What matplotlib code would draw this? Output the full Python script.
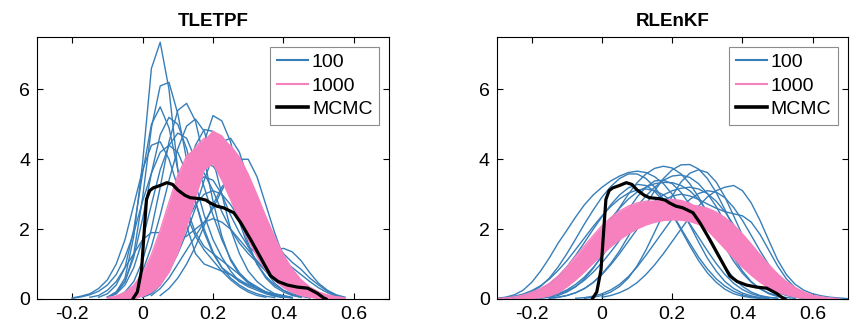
import numpy as np
import matplotlib
matplotlib.use('Agg')
import matplotlib.pyplot as plt
from matplotlib.lines import Line2D

plt.rcParams['font.family'] = ['Liberation Sans', 'DejaVu Sans']

x_grid = np.linspace(-0.3, 0.7, 41)

# TLETPF, ensemble size 100
tletpf_100 = [
    [0]*8 + [0.05, 0.2, 0.6, 1.8, 3.9, 6.6, 7.35, 6.0, 3.7, 2.1, 1.3, 1.0, 0.9, 0.8, 0.7, 0.55, 0.4, 0.3, 0.2, 0.15, 0.1, 0.05] + [0]*11,
    [0]*8 + [0.05, 0.15, 0.5, 1.3, 2.9, 4.9, 6.1, 6.2, 5.3, 4.0, 2.8, 1.9, 1.3, 0.9, 0.7, 0.5, 0.4, 0.3, 0.2, 0.12, 0.06, 0.03] + [0]*11,
    [0]*7 + [0.05, 0.15, 0.4, 0.9, 2.0, 3.6, 5.0, 5.5, 4.9, 3.7, 2.6, 1.9, 1.5, 1.3, 1.1, 0.9, 0.7, 0.5, 0.35, 0.2, 0.1, 0.05] + [0]*12,
    [0]*9 + [0.05, 0.2, 0.5, 1.1, 2.0, 3.2, 4.5, 5.4, 5.6, 5.1, 4.0, 2.8, 1.8, 1.1, 0.7, 0.45, 0.3, 0.2, 0.1, 0.05] + [0]*12,
    [0]*10 + [0.1, 0.3, 0.8, 1.5, 2.4, 3.4, 4.3, 4.95, 5.15, 4.8, 4.0, 3.0, 2.0, 1.3, 0.8, 0.5, 0.3, 0.15, 0.08, 0.03] + [0]*11,
    [0]*12 + [0.1, 0.3, 0.6, 1.0, 1.6, 2.4, 3.4, 4.5, 5.25, 5.1, 4.5, 3.4, 2.3, 1.4, 0.8, 0.45, 0.25, 0.12, 0.05] + [0]*10,
    [0]*12 + [0.05, 0.15, 0.4, 0.8, 1.3, 1.9, 2.6, 3.4, 4.1, 4.5, 4.6, 4.2, 3.4, 2.4, 1.6, 1.0, 0.6, 0.35, 0.2, 0.1, 0.05] + [0]*8,
    [0]*13 + [0.1, 0.3, 0.6, 1.0, 1.4, 1.8, 2.2, 2.6, 3.1, 3.6, 4.0, 4.0, 3.5, 2.7, 1.9, 1.2, 0.7, 0.4, 0.2, 0.1, 0.05] + [0]*7,
    [0]*8 + [0.05, 0.2, 0.5, 1.2, 2.3, 3.6, 4.7, 5.2, 5.0, 4.3, 3.3, 2.4, 1.7, 1.2, 0.8, 0.5, 0.35, 0.25, 0.15, 0.08, 0.04] + [0]*12,
    [0]*11 + [0.1, 0.3, 0.6, 1.1, 1.8, 2.7, 3.6, 4.4, 4.85, 4.8, 4.2, 3.3, 2.4, 1.6, 1.0, 0.6, 0.35, 0.2, 0.1, 0.05] + [0]*10,
    [0]*10 + [0.1, 0.3, 0.6, 1.0, 1.5, 2.1, 2.7, 3.3, 3.7, 3.9, 3.8, 3.5, 3.0, 2.5, 2.0, 1.5, 1.1, 0.8, 0.55, 0.35, 0.2, 0.1, 0.05] + [0]*8,
    [0]*6 + [0.05, 0.1, 0.25, 0.5, 0.9, 1.3, 1.7, 1.9, 1.9, 1.8, 1.7, 1.8, 2.0, 2.2, 2.3, 2.2, 2.0, 1.7, 1.4, 1.1, 0.8, 0.55, 0.35, 0.2, 0.1, 0.05] + [0]*9,
    [0]*10 + [0.05, 0.15, 0.35, 0.7, 1.2, 1.8, 2.4, 2.9, 3.3, 3.5, 3.4, 3.0, 2.4, 1.9, 1.5, 1.3, 1.3, 1.4, 1.45, 1.35, 1.1, 0.75, 0.45, 0.25, 0.12, 0.05] + [0]*5,
    [0]*4 + [0.02, 0.06, 0.12, 0.22, 0.4, 0.7, 1.2, 1.9, 2.8, 3.6, 4.2, 4.4, 4.2, 3.6, 2.8, 2.0, 1.35, 0.9, 0.6, 0.4, 0.25, 0.15, 0.08, 0.04] + [0]*13,
    [0]*8 + [0.05, 0.15, 0.4, 0.9, 1.7, 2.7, 3.7, 4.4, 4.75, 4.6, 4.0, 3.2, 2.4, 1.7, 1.15, 0.75, 0.5, 0.3, 0.18, 0.1, 0.05] + [0]*12,
    [0]*14 + [0.1, 0.3, 0.6, 1.0, 1.5, 2.1, 2.7, 3.2, 3.55, 3.6, 3.3, 2.8, 2.2, 1.7, 1.3, 1.05, 0.85, 0.6, 0.4, 0.22, 0.1, 0.04] + [0]*5,
    [0]*11 + [0.05, 0.2, 0.5, 0.95, 1.6, 2.4, 3.3, 4.0, 4.3, 4.2, 3.7, 3.0, 2.2, 1.5, 1.0, 0.65, 0.4, 0.25, 0.15, 0.08, 0.03] + [0]*9,
    [0]*4 + [0.03, 0.08, 0.15, 0.3, 0.55, 1.0, 1.7, 2.7, 3.7, 4.4, 4.5, 4.0, 3.2, 2.4, 1.8, 1.4, 1.1, 0.8, 0.55, 0.35, 0.2, 0.1, 0.05] + [0]*14,
    [0]*12 + [0.05, 0.2, 0.5, 1.0, 1.6, 2.2, 2.7, 3.0, 3.1, 3.0, 2.7, 2.3, 1.9, 1.6, 1.4, 1.25, 1.1, 0.9, 0.7, 0.5, 0.32, 0.18, 0.08, 0.03] + [0]*5,
    [0]*10 + [0.05, 0.2, 0.5, 1.0, 1.7, 2.5, 3.2, 3.7, 3.8, 3.6, 3.1, 2.5, 2.0, 1.6, 1.3, 1.05, 0.8, 0.55, 0.35, 0.2, 0.1, 0.04] + [0]*9,
]

# TLETPF, ensemble size 1000
tletpf_1000 = [
    [0]*8 + [0.03, 0.08, 0.19, 0.39, 0.74, 1.27, 1.97, 2.77, 3.54, 4.09, 4.3, 4.19, 3.88, 3.41, 2.85, 2.25, 1.70, 1.21, 0.82, 0.53, 0.33, 0.19, 0.10, 0.06, 0.03] + [0]*8,
    [0]*10 + [0.05, 0.13, 0.30, 0.62, 1.15, 1.89, 2.79, 3.68, 4.35, 4.6, 4.46, 4.06, 3.47, 2.79, 2.11, 1.50, 0.99, 0.62, 0.37, 0.20, 0.11, 0.05] + [0]*9,
    [0]*12 + [0.08, 0.21, 0.48, 0.97, 1.73, 2.70, 3.72, 4.50, 4.8, 4.67, 4.29, 3.72, 3.05, 2.37, 1.73, 1.20, 0.78, 0.48, 0.28, 0.15, 0.08, 0.04] + [0]*7,
    [0]*10 + [0.05, 0.13, 0.26, 0.50, 0.89, 1.42, 2.10, 2.85, 3.53, 4.02, 4.2, 4.11, 3.85, 3.46, 2.97, 2.44, 1.92, 1.45, 1.05, 0.72, 0.48, 0.30, 0.18, 0.11, 0.06, 0.03] + [0]*5,
    [0]*8 + [0.04, 0.08, 0.18, 0.34, 0.60, 1.00, 1.52, 2.16, 2.83, 3.43, 3.85, 4.0, 3.90, 3.61, 3.17, 2.65, 2.10, 1.58, 1.13, 0.76, 0.49, 0.30, 0.18, 0.10, 0.05] + [0]*8,
    [0]*12 + [0.09, 0.20, 0.41, 0.77, 1.33, 2.06, 2.90, 3.70, 4.28, 4.5, 4.39, 4.06, 3.57, 2.98, 2.36, 1.78, 1.27, 0.86, 0.55, 0.34, 0.20, 0.11, 0.06, 0.03] + [0]*5,
]

# RLEnKF, ensemble size 100
rlenkf_100 = [
    [0.02, 0.05, 0.12, 0.25, 0.48, 0.8, 1.18, 1.6, 1.97, 2.35, 2.7, 2.98, 3.2, 3.38, 3.52, 3.62, 3.66, 3.62, 3.5, 3.3, 3.0, 2.6, 2.12, 1.63, 1.17, 0.8, 0.5, 0.3, 0.17, 0.09, 0.04, 0.02] + [0]*9,
    [0, 0.02, 0.05, 0.1, 0.2, 0.36, 0.6, 0.92, 1.3, 1.72, 2.15, 2.55, 2.92, 3.22, 3.45, 3.58, 3.58, 3.45, 3.2, 2.85, 2.45, 2.02, 1.6, 1.2, 0.86, 0.58, 0.37, 0.22, 0.12, 0.06, 0.03, 0.01] + [0]*9,
    [0]*3 + [0.02, 0.05, 0.1, 0.18, 0.3, 0.48, 0.72, 1.02, 1.38, 1.78, 2.2, 2.62, 3.0, 3.33, 3.58, 3.74, 3.8, 3.75, 3.58, 3.3, 2.92, 2.46, 1.97, 1.5, 1.08, 0.74, 0.48, 0.3, 0.17, 0.09, 0.04, 0.02] + [0]*6,
    [0]*6 + [0.02, 0.05, 0.1, 0.18, 0.3, 0.48, 0.72, 1.02, 1.38, 1.8, 2.25, 2.7, 3.1, 3.45, 3.7, 3.84, 3.85, 3.72, 3.45, 3.05, 2.56, 2.03, 1.52, 1.08, 0.72, 0.45, 0.27, 0.15, 0.08, 0.04, 0.02] + [0]*4,
    [0]*12 + [0.05, 0.1, 0.18, 0.3, 0.47, 0.7, 0.98, 1.3, 1.65, 2.0, 2.35, 2.66, 2.92, 3.1, 3.2, 3.25, 3.1, 2.75, 2.25, 1.68, 1.12, 0.7, 0.42, 0.25, 0.15, 0.09, 0.05, 0.03, 0.01],
    [0]*6 + [0.02, 0.05, 0.1, 0.18, 0.3, 0.47, 0.7, 0.98, 1.3, 1.65, 2.0, 2.32, 2.6, 2.82, 2.95, 3.0, 2.95, 2.85, 2.72, 2.6, 2.5, 2.44, 2.38, 2.2, 1.85, 1.4, 0.95, 0.58, 0.32, 0.16, 0.07, 0.03] + [0]*3,
    [0, 0, 0.02, 0.04, 0.08, 0.15, 0.26, 0.42, 0.64, 0.92, 1.25, 1.6, 1.96, 2.3, 2.6, 2.86, 3.06, 3.2, 3.3, 3.34, 3.33, 3.25, 3.1, 2.85, 2.5, 2.08, 1.62, 1.18, 0.8, 0.5, 0.29, 0.15, 0.07, 0.03] + [0]*7,
    [0]*5 + [0.02, 0.05, 0.1, 0.2, 0.35, 0.58, 0.88, 1.25, 1.68, 2.12, 2.55, 2.92, 3.2, 3.38, 3.4, 3.3, 3.05, 2.7, 2.25, 1.78, 1.32, 0.92, 0.6, 0.36, 0.2, 0.1, 0.05, 0.02] + [0]*8,
    [0]*4 + [0.02, 0.04, 0.08, 0.14, 0.23, 0.36, 0.54, 0.77, 1.04, 1.35, 1.68, 2.0, 2.3, 2.57, 2.8, 2.98, 3.1, 3.17, 3.2, 3.15, 3.02, 2.8, 2.5, 2.12, 1.7, 1.28, 0.9, 0.58, 0.35, 0.19, 0.1, 0.05, 0.02] + [0]*4,
    [0]*10 + [0.02, 0.05, 0.1, 0.2, 0.36, 0.6, 0.95, 1.4, 1.92, 2.45, 2.95, 3.35, 3.6, 3.7, 3.62, 3.35, 2.92, 2.38, 1.82, 1.3, 0.86, 0.53, 0.3, 0.16, 0.08, 0.03] + [0]*5,
    [0, 0.02, 0.04, 0.08, 0.15, 0.26, 0.42, 0.64, 0.92, 1.25, 1.62, 2.0, 2.36, 2.7, 2.98, 3.18, 3.28, 3.25, 3.08, 2.8, 2.42, 1.98, 1.52, 1.1, 0.75, 0.48, 0.28, 0.15, 0.08, 0.04, 0.02] + [0]*10,
    [0]*4 + [0.02, 0.04, 0.08, 0.15, 0.26, 0.42, 0.63, 0.9, 1.22, 1.58, 1.95, 2.32, 2.65, 2.95, 3.2, 3.4, 3.52, 3.55, 3.48, 3.3, 3.02, 2.65, 2.2, 1.72, 1.27, 0.88, 0.57, 0.34, 0.19, 0.1, 0.05, 0.02] + [0]*5,
    [0.02, 0.04, 0.08, 0.14, 0.24, 0.38, 0.57, 0.82, 1.1, 1.42, 1.75, 2.08, 2.38, 2.65, 2.87, 3.03, 3.12, 3.15, 3.1, 2.98, 2.78, 2.5, 2.15, 1.77, 1.38, 1.02, 0.7, 0.45, 0.27, 0.15, 0.08, 0.04, 0.02] + [0]*8,
    [0]*9 + [0.02, 0.04, 0.08, 0.15, 0.26, 0.42, 0.64, 0.92, 1.25, 1.6, 1.95, 2.3, 2.6, 2.85, 3.02, 3.1, 3.06, 2.9, 2.62, 2.25, 1.82, 1.38, 0.98, 0.64, 0.38, 0.21, 0.1, 0.05, 0.02] + [0]*3,
]

# RLEnKF, ensemble size 1000
rlenkf_1000 = [
    [0.01, 0.03, 0.06, 0.11, 0.19, 0.3, 0.45, 0.66, 0.92, 1.22, 1.52, 1.82, 2.1, 2.33, 2.52, 2.66, 2.75, 2.8, 2.8, 2.76, 2.68, 2.56, 2.4, 2.2, 1.97, 1.71, 1.44, 1.17, 0.91, 0.68, 0.48, 0.32, 0.2, 0.12, 0.06, 0.03, 0.01] + [0]*4,
    [0]*4 + [0.02, 0.04, 0.09, 0.18, 0.35, 0.6, 0.9, 1.2, 1.5, 1.77, 2.02, 2.22, 2.38, 2.5, 2.58, 2.63, 2.66, 2.68, 2.68, 2.66, 2.6, 2.49, 2.33, 2.12, 1.86, 1.57, 1.27, 0.98, 0.72, 0.5, 0.33, 0.2, 0.11, 0.06, 0.03, 0.01, 0],
    [0]*3 + [0.01, 0.03, 0.07, 0.13, 0.22, 0.36, 0.55, 0.78, 1.03, 1.28, 1.5, 1.7, 1.87, 2.01, 2.12, 2.2, 2.25, 2.27, 2.26, 2.22, 2.14, 2.02, 1.85, 1.64, 1.4, 1.14, 0.89, 0.66, 0.46, 0.3, 0.18, 0.1, 0.05, 0.02, 0.01] + [0]*3,
    [0]*2 + [0.01, 0.03, 0.06, 0.11, 0.19, 0.31, 0.48, 0.72, 1.0, 1.3, 1.6, 1.9, 2.16, 2.38, 2.56, 2.7, 2.79, 2.84, 2.85, 2.82, 2.74, 2.6, 2.4, 2.14, 1.84, 1.52, 1.2, 0.9, 0.64, 0.43, 0.27, 0.16, 0.09, 0.04, 0.02, 0.01] + [0]*3,
    [0]*3 + [0.02, 0.04, 0.08, 0.15, 0.26, 0.42, 0.64, 0.9, 1.18, 1.46, 1.73, 1.97, 2.17, 2.33, 2.45, 2.53, 2.56, 2.55, 2.5, 2.41, 2.28, 2.11, 1.9, 1.66, 1.4, 1.13, 0.87, 0.64, 0.45, 0.3, 0.19, 0.11, 0.06, 0.03, 0.01] + [0]*3,
]

# MCMC reference density (same in both panels)
mcmc_x = [-0.028, -0.015, -0.003, 0.005, 0.011, 0.02, 0.03, 0.05, 0.069, 0.085, 0.1, 0.12, 0.135, 0.164,
          0.18, 0.192, 0.21, 0.23, 0.259, 0.279, 0.307, 0.336, 0.364, 0.385, 0.411, 0.44, 0.469, 0.497, 0.516, 0.522]
mcmc_y = [0, 0.2, 0.83, 2.0, 2.85, 3.1, 3.18, 3.25, 3.33, 3.28, 3.12, 2.97, 2.9, 2.87,
          2.83, 2.75, 2.66, 2.61, 2.47, 2.18, 1.7, 1.17, 0.66, 0.5, 0.4, 0.34, 0.31, 0.16, 0.02, 0]

titles = ['TLETPF', 'RLEnKF']
labels = ['100', '1000', 'MCMC']
blue = '#377eb8'
pink = '#f781bf'

for group in (tletpf_100, tletpf_1000, rlenkf_100, rlenkf_1000):
    for c in group:
        assert len(c) == 41, len(c)


def trimmed(c):
    # leave out the flat zero parts so nothing is drawn along the baseline
    c = np.array(c, dtype=float)
    return np.where(c > 0, c, np.nan)


fig = plt.figure(figsize=(8.51, 3.31), dpi=100)
ax1 = fig.add_axes([0.0435, 0.0967, 0.4136, 0.7915])
ax2 = fig.add_axes([0.5837, 0.0967, 0.4125, 0.7915])

for ax, title, small, large in [(ax1, titles[0], tletpf_100, tletpf_1000),
                                (ax2, titles[1], rlenkf_100, rlenkf_1000)]:
    for c in small:
        ax.plot(x_grid, trimmed(c), color=blue, lw=1.0, zorder=2)
    band = np.array(large)
    ax.fill_between(x_grid, band.min(axis=0), band.max(axis=0),
                    where=band.max(axis=0) > 0, color=pink, lw=0, zorder=2.2)
    for c in large:
        ax.plot(x_grid, trimmed(c), color=pink, lw=1.0, zorder=2.3)
    ax.plot(mcmc_x, mcmc_y, color='k', lw=2.3, zorder=4, solid_capstyle='round')

    ax.set_xlim(-0.3, 0.7)
    ax.set_ylim(0, 7.5)
    ax.set_xticks([-0.2, 0, 0.2, 0.4, 0.6])
    ax.set_xticklabels(['-0.2', '0', '0.2', '0.4', '0.6'])
    ax.set_yticks([0, 2, 4, 6])
    ax.tick_params(direction='in', top=True, right=True, length=4, width=0.8, labelsize=14, pad=5)
    for s in ax.spines.values():
        s.set_linewidth(0.8)
    ax.set_title(title, fontsize=13.5, fontweight='bold', pad=8)

    handles = [Line2D([], [], color=blue, lw=1.5),
               Line2D([], [], color=pink, lw=1.5),
               Line2D([], [], color='k', lw=2.6)]
    leg = ax.legend(handles, labels, loc='upper right', fontsize=14,
                    fancybox=False, framealpha=1, edgecolor='0.55', handlelength=1.6,
                    handletextpad=0.2, borderpad=0.35, labelspacing=0.3, borderaxespad=0.5)
    leg.get_frame().set_linewidth(0.8)

fig.savefig('out.png', dpi=100)
